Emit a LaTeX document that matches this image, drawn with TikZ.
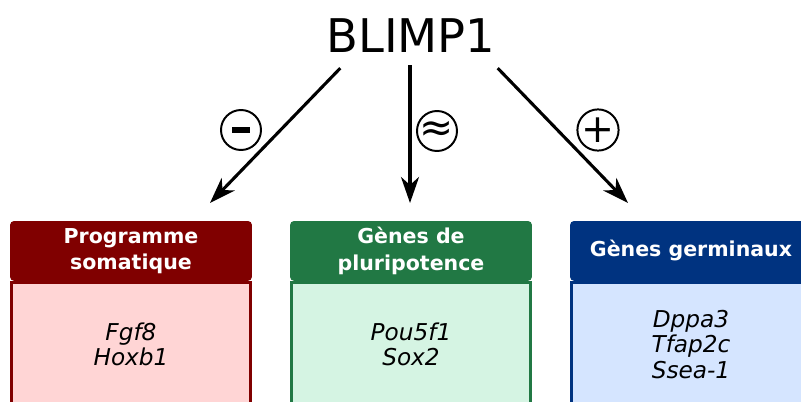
\documentclass[tikz,border=0pt]{standalone}
\usepackage{fontspec}
\setmainfont{DejaVu Sans}
\usetikzlibrary{arrows.meta}

\definecolor{somHd}{HTML}{800000}
\definecolor{somBg}{HTML}{FFD5D5}
\definecolor{pluHd}{HTML}{217844}
\definecolor{pluBg}{HTML}{D5F4E3}
\definecolor{gerHd}{HTML}{003380}
\definecolor{gerBg}{HTML}{D5E5FF}

\begin{document}
\begin{tikzpicture}[x=0.025cm,y=-0.025cm,
  hd/.style={draw=#1,fill=#1,line width=2pt,rounded corners=2pt,anchor=north,
    minimum width=5.975cm,minimum height=1.425cm,inner sep=0pt,align=center,
    text=white,font=\fontsize{14.6}{18.5}\selectfont\bfseries},
  bd/.style 2 args={draw=#1,fill=#2,line width=2pt,anchor=north,
    minimum width=5.975cm,minimum height=3.1cm,inner sep=0pt,align=center,
    font=\fontsize{16.5}{18}\selectfont\itshape},
  sym/.style={draw,circle,line width=1.4pt,minimum size=1cm,inner sep=0pt},
  arr/.style={line width=2.2pt,-{Stealth[length=0.65cm,width=0.45cm,inset=0.2cm]}}]
\useasboundingbox (0,0) rectangle (801,401);
\clip (0,0) rectangle (801,401);

\node[inner sep=0pt,font=\fontsize{33}{36}\selectfont](blimp) at (411,36) {BLIMP1};

\node[hd=somHd](somHead) at (131,221) {Programme\\somatique};
\node[bd={somHd}{somBg}](somBody) at (somHead.south) {Fgf8\\Hoxb1};
\node[hd=pluHd](pluHead) at (411,221) {Gènes de\\pluripotence};
\node[bd={pluHd}{pluBg}](pluBody) at (pluHead.south) {Pou5f1\\Sox2};
\node[hd=gerHd](gerHead) at (691,221) {Gènes germinaux};
\node[bd={gerHd}{gerBg}](gerBody) at (gerHead.south) {Dppa3\\Tfap2c\\Ssea-1};

\coordinate (somTip) at (210,203);
\coordinate (pluTip) at (410,203);
\coordinate (gerTip) at (628,203);

\draw[arr] ([xshift=0.35cm,yshift=-0.375cm]blimp.south west) -- (somTip);
\draw[arr] ([xshift=-0.025cm,yshift=-0.3cm]blimp.south) -- (pluTip);
\draw[arr] ([xshift=0.05cm,yshift=-0.375cm]blimp.south east) -- (gerTip);

\node[sym](minus) at (241,130) {\raisebox{-0.02cm}{\rule{0.45cm}{0.16cm}}};
\node[sym](approx) at (437,131) {\fontsize{29}{29}\selectfont ≈};
\node[sym](plus) at (598,130) {\fontsize{28}{28}\selectfont +};
\end{tikzpicture}
\end{document}
